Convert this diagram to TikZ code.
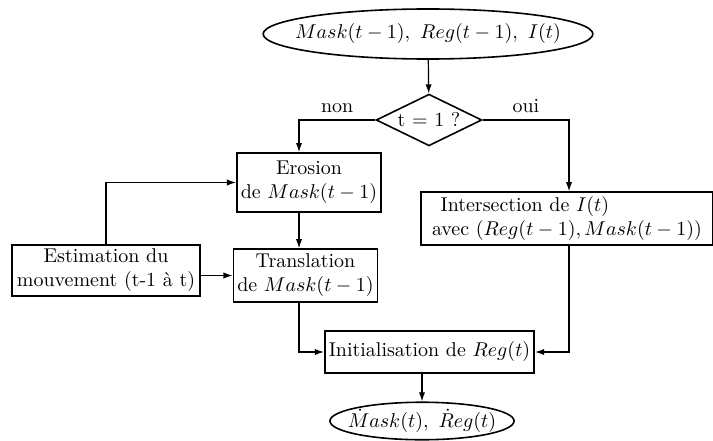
\documentclass[tikz,border=0pt]{standalone}
\usepackage{amsmath}
\usepackage{amssymb}
\usetikzlibrary{shapes.geometric,arrows.meta}

\tikzset{
    box/.style={draw, line width=0.8pt, rectangle, inner sep=2pt, align=center},
    term/.style={draw, line width=0.8pt, ellipse, inner sep=0pt},
    decision/.style={draw, line width=0.8pt, diamond, aspect=2, inner sep=0pt},
    arr/.style={line width=0.6pt, -{Latex[length=1.6mm,width=1.1mm]}}
}

\begin{document}
\begin{tikzpicture}[x=0.0176cm, y=-0.0176cm]
    \useasboundingbox (0,0) rectangle (713,441);

    % Columns of the two branches
    \coordinate (colL) at (299,0);
    \coordinate (colR) at (569,0);

    % Start, test and end
    \node[term, minimum width=5.8cm, minimum height=0.88cm] (inp) at (428,34)
        {\makebox[0pt]{$Mask(t-1),\ Reg(t-1),\ I(t)$}};
    \node[decision, minimum width=1.86cm, minimum height=0.91cm] (test) at (429,120)
        {\makebox[0pt]{t $=$ 1 ?}};
    \node[term, minimum width=3.24cm, minimum height=0.66cm] (out) at (422,421)
        {\makebox[0pt]{$\dot{M}ask(t),\ \dot{R}eg(t)$}};

    % Boxes
    \node[box, minimum width=2.53cm, minimum height=1.04cm] (erosion) at (309,182.5)
        {Erosion\\de $Mask(t-1)$};
    \node[box, minimum width=2.52cm, minimum height=0.93cm] (transl) at (305.5,275.5)
        {Translation\\de $Mask(t-1)$};
    \node[box, minimum width=3.3cm, minimum height=0.79cm] (estim) at (106,270.5)
        {Estimation du\\mouvement (t-1 \`a t)};
    \node[box, minimum width=5.13cm, minimum height=0.93cm, align=left] (inter) at (567,218.5)
        {\hspace*{1.5mm}Intersection de $I(t)$\\avec $(Reg(t-1), Mask(t-1))$};
    \node[box, minimum width=3.68cm, minimum height=0.74cm] (init) at (429.5,352)
        {Initialisation de $Reg(t)$};

    % Connectors
    \draw[arr] (inp) -- (test);
    \draw[arr] (test.west) -| node[above, pos=0.25] {non} (colL |- erosion.north);
    \draw[arr] (test.east) -| node[above, pos=0.25] {oui} (colR |- inter.north);
    \draw[arr] (colL |- erosion.south) -- (colL |- transl.north);
    \draw[arr] (estim.north) |- (erosion.west);
    \draw[arr] (estim.east |- transl) -- (transl.west);
    \draw[arr] (colL |- transl.south) |- (init.west);
    \draw[arr] (colR |- inter.south) |- (init.east);
    \draw[arr] (out |- init.south) -- (out.north);
\end{tikzpicture}
\end{document}
